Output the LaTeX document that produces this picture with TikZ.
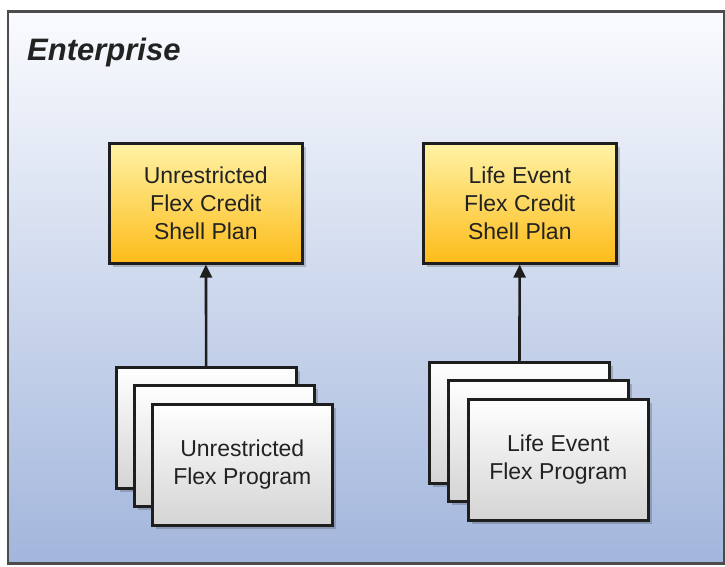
\documentclass[tikz,border=0pt]{standalone}
\usepackage{fontspec}
\setmainfont{Liberation Sans}
\usetikzlibrary{arrows.meta,shadows}
\definecolor{bgtop}{HTML}{FAFBFE}
\definecolor{bgbot}{HTML}{A2B6DC}
\definecolor{ytop}{HTML}{FFF3A6}
\definecolor{ybot}{HTML}{FDBB18}
\definecolor{gbot}{HTML}{D4D4D4}
\definecolor{edge}{HTML}{1E1E1E}
\definecolor{txt}{HTML}{222222}
\begin{document}
\begin{tikzpicture}[x=1pt,y=-1pt,
  box/.style={draw=edge, line width=2.6pt, rectangle, anchor=north west, inner sep=0pt,
    align=center, font=\fontsize{23}{28}\selectfont, text=txt,
    drop shadow={shadow xshift=4pt, shadow yshift=-4pt, fill=black, opacity=0.18}},
  plan/.style={box, top color=ytop, bottom color=ybot, minimum width=193pt, minimum height=120pt},
  prog/.style={box, top color=white, bottom color=gbot, minimum width=180pt, minimum height=121pt},
  arr/.style={draw=edge, line width=2.6pt, -{Triangle[length=13pt,width=12pt]}}]
\useasboundingbox (0,0) rectangle (725,566);
\draw[draw=black!70, line width=2.4pt, top color=bgtop, bottom color=bgbot] (8,11.5) rectangle (724,563.5);
\node[anchor=base west, font=\fontsize{31}{36}\selectfont\bfseries\itshape, text=txt, inner sep=0pt] (ent) at (27,60) {Enterprise};

\node[plan] (plan1) at (108,142) {Unrestricted\\Flex Credit\\Shell Plan};
\node[plan] (plan2) at (422,142) {Life Event\\Flex Credit\\Shell Plan};

\node[prog] (back1) at (115,366) {};
\node[prog] (mid1) at (133,384) {};
\node[prog] (front1) at (151,403) {Unrestricted\\Flex Program};

\node[prog] (back2) at (428,361) {};
\node[prog] (mid2) at (447,379) {};
\node[prog] (front2) at (467,398) {Life Event\\Flex Program};

\draw[arr] (back1) -- (plan1);
\draw[arr] (back2) -- (plan2);
\end{tikzpicture}
\end{document}
